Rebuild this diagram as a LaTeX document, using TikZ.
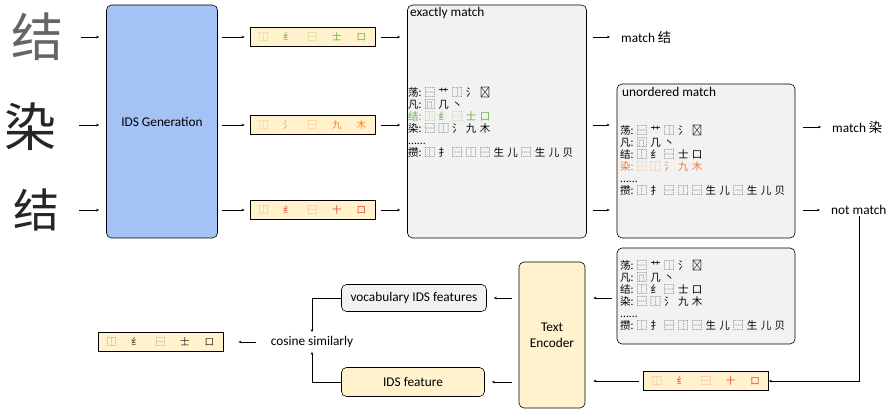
\documentclass[tikz,border=0pt]{standalone}
\usepackage{fontspec}
\setmainfont{Carlito}
\newfontfamily\cjk{Noto Sans CJK SC}
\newfontfamily\cjklist[WordSpace=1.4]{Noto Sans CJK SC}
\usetikzlibrary{arrows.meta}
\definecolor{idsblue}{RGB}{164,194,244}
\definecolor{idsyellow}{RGB}{255,242,204}
\definecolor{boxgray}{RGB}{242,242,242}
\definecolor{okgreen}{RGB}{112,173,71}
\definecolor{midorange}{RGB}{237,125,49}
\definecolor{badred}{RGB}{226,70,58}
\newcommand\idsrow[5]{{\cjk #1\hspace{15pt}#2\hspace{15pt}#3\hspace{15pt}#4\hspace{15pt}#5}}
\newcommand\ch[1]{#1:\hspace{3pt}}
\tikzset{
    block/.style={draw, rounded corners=5pt, line width=0.6pt, align=center, font=\fontsize{13.3}{16}\selectfont},
    idsbox/.style={draw, fill=idsyellow, line width=0.8pt, minimum width=125pt, minimum height=19pt, inner sep=0pt, font=\fontsize{9.5}{10}\selectfont},
    arr/.style={-{Stealth[length=3pt,width=2.6pt]}, line width=0.5pt},
    lbl/.style={font=\fontsize{13.3}{16}\selectfont, inner sep=1pt},
    idslist/.style={align=left, anchor=north west, inner sep=0pt, font=\cjklist\fontsize{10.5}{12}\selectfont},
    hand/.style={inner sep=0pt, font=\cjk\fontsize{52}{52}\selectfont}
}
\begin{document}
\begin{tikzpicture}[x=1pt, y=-1pt]
        \useasboundingbox (0,0) rectangle (894,411);
        \node [hand, text=black!60] (h1) at (37,37) {结};
        \node [hand, text=black!85] (h2) at (31,127) {染};
        \node [hand, text=black!85, font=\cjk\fontsize{46}{46}\selectfont] (h3) at (36,210) {结};
        \node [block, fill=idsblue, minimum width=111pt, minimum height=233pt] (gen) at (162,121.5) {IDS Generation};
        \node [idsbox, text=okgreen] (ids1) at (312.5,37) {\idsrow{⿰}{纟}{⿱}{士}{口}};
        \node [idsbox, text=midorange] (ids2) at (312.5,125) {\idsrow{⿰}{氵}{⿱}{九}{木}};
        \node [idsbox, text=badred] (ids3) at (312.5,210) {\idsrow{⿰}{纟}{⿱}{十}{口}};
        \node [block, fill=boxgray, minimum width=179pt, minimum height=233pt] (exact) at (497,121.5) {};
        \node [lbl, anchor=north west] (exactlbl) at (409,6) {exactly match};
        \node [idslist] (exactlist) at (408,87) {\ch{荡}⿱ 艹 ⿰ 氵 𠃓\\\ch{凡}⿵ 几 丶\\\textcolor{okgreen}{\ch{结}⿰ 纟 ⿱ 士 口}\\\ch{染}⿱ ⿰ 氵 九 木\\......\\\ch{攒}⿰ 扌 ⿱ ⿰ ⿱ 生 儿 ⿱ 生 儿 贝};
        \node [block, fill=boxgray, minimum width=178pt, minimum height=154pt] (unord) at (706,161) {};
        \node [lbl, anchor=north west] (unordlbl) at (621,86) {unordered match};
        \node [idslist] (unordlist) at (620,125) {\ch{荡}⿱ 艹 ⿰ 氵 𠃓\\\ch{凡}⿵ 几 丶\\\ch{结}⿰ 纟 ⿱ 士 口\\\textcolor{midorange}{\ch{染}⿱ ⿰ 氵 九 木}\\......\\\ch{攒}⿰ 扌 ⿱ ⿰ ⿱ 生 儿 ⿱ 生 儿 贝};
        \node [block, fill=boxgray, minimum width=178pt, minimum height=96pt] (vocablist) at (706,296) {};
        \node [idslist] (vocabtxt) at (620,260) {\ch{荡}⿱ 艹 ⿰ 氵 𠃓\\\ch{凡}⿵ 几 丶\\\ch{结}⿰ 纟 ⿱ 士 口\\\ch{染}⿱ ⿰ 氵 九 木\\......\\\ch{攒}⿰ 扌 ⿱ ⿰ ⿱ 生 儿 ⿱ 生 儿 贝};
        \node [lbl, anchor=west] (m1) at (620,37) {match {\cjk 结}};
        \node [lbl, anchor=west] (m2) at (831,127) {match {\cjk 染}};
        \node [lbl, anchor=west] (nm) at (830,210) {not match};
        \node [idsbox, text=badred] (ids4) at (706,381) {\idsrow{⿰}{纟}{⿱}{十}{口}};
        \node [block, fill=idsyellow, minimum width=66pt, minimum height=146pt] (enc) at (552,335) {Text\\Encoder};
        \node [block, fill=boxgray, minimum width=145pt, minimum height=27pt] (vocab) at (414,298) {vocabulary IDS features};
        \node [block, fill=idsyellow, minimum width=143pt, minimum height=29pt] (feat) at (413,382) {IDS feature};
        \node [lbl] (cos) at (312,342) {cosine similarly};
        \node [idsbox, text=black!80] (ids5) at (160.5,342) {\idsrow{⿰}{纟}{⿱}{士}{口}};
        \draw [arr, shorten <=18pt, shorten >=7pt] (h1.east |- ids1) -- (gen.west |- ids1);
        \draw [arr, shorten <=22pt, shorten >=7pt] (h2.east |- ids2) -- (gen.west |- ids2);
        \draw [arr, shorten <=20pt, shorten >=7pt] (h3.east |- ids3) -- (gen.west |- ids3);
        \draw [arr, shorten <=4pt, shorten >=5pt] (gen.east |- ids1) -- (ids1.west);
        \draw [arr, shorten <=4pt, shorten >=5pt] (gen.east |- ids2) -- (ids2.west);
        \draw [arr, shorten <=4pt, shorten >=5pt] (gen.east |- ids3) -- (ids3.west);
        \draw [arr, shorten <=6pt, shorten >=7pt] (ids1.east) -- (exact.west |- ids1);
        \draw [arr, shorten <=6pt, shorten >=7pt] (ids2.east) -- (exact.west |- ids2);
        \draw [arr, shorten <=6pt, shorten >=7pt] (ids3.east) -- (exact.west |- ids3);
        \draw [arr, shorten <=6pt, shorten >=10pt] (exact.east |- m1) -- (m1.west);
        \draw [arr, shorten <=6pt, shorten >=7pt] (exact.east |- ids2) -- (unord.west |- ids2);
        \draw [arr, shorten <=6pt, shorten >=7pt] (exact.east |- ids3) -- (unord.west |- ids3);
        \draw [arr, shorten <=8pt, shorten >=10pt] (unord.east |- m2) -- (m2.west);
        \draw [arr, shorten <=8pt, shorten >=10pt] (unord.east |- nm) -- (nm.west);
        \draw [arr] (nm.south) |- (ids4.east);
        \draw [arr, shorten <=4pt, shorten >=8pt] (ids4.west) -- (enc.east |- ids4);
        \draw [arr, shorten <=5pt, shorten >=8pt] (vocablist.west |- vocab) -- (enc.east |- vocab);
        \draw [arr, shorten <=7pt, shorten >=7pt] (enc.west |- vocab) -- (vocab.east);
        \draw [arr, shorten <=7pt, shorten >=7pt] (enc.west |- feat) -- (feat.east);
        \draw [arr, shorten >=3pt] (vocab.west) -| (cos.north);
        \draw [arr, shorten >=3pt] (feat.west) -| (cos.south);
        \draw [arr, shorten <=14pt, shorten >=15pt] (cos.west) -- (ids5.east);
\end{tikzpicture}
\end{document}
